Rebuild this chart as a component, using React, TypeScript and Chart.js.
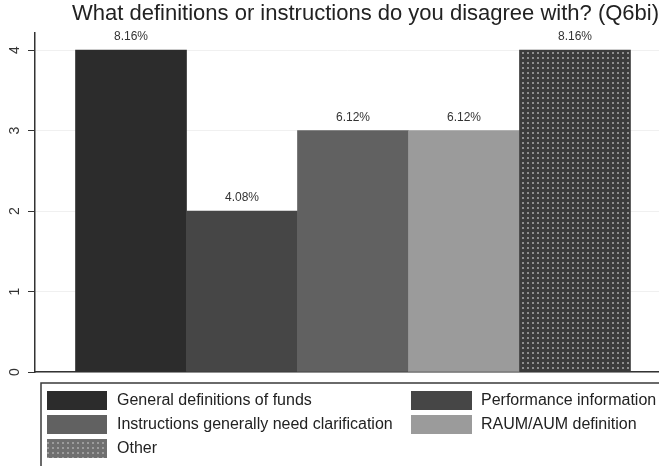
import React, { useEffect, useRef } from "react";
import { Chart, registerables } from "chart.js";

Chart.register(...registerables);

const TITLE = "What definitions or instructions do you disagree with? (Q6bi)";
const categories = [
  "General definitions of funds",
  "Performance information",
  "Instructions generally need clarification",
  "RAUM/AUM definition",
  "Other",
];
const counts = [4, 2, 3, 3, 4];
const pctLabels = ["8.16%", "4.08%", "6.12%", "6.12%", "8.16%"];
const barColors = ["#2c2c2c", "#464646", "#616161", "#9b9b9b", "PATTERN"];
const yTicks = [0, 1, 2, 3, 4];
// legend order: rows of two columns
const legendOrder = [0, 1, 2, 3, 4];

const FONT = "'Liberation Sans', Arial, Helvetica, sans-serif";

function makeDots(bg: string, dot: string): CanvasPattern | string {
  const c = document.createElement("canvas");
  c.width = 5;
  c.height = 5;
  const g = c.getContext("2d");
  if (!g) return bg;
  g.fillStyle = bg;
  g.fillRect(0, 0, 5, 5);
  g.fillStyle = dot;
  g.fillRect(2, 2, 2, 2);
  const p = g.createPattern(c, "repeat");
  return p || bg;
}

export default function App() {
  const ref = useRef<HTMLCanvasElement | null>(null);

  useEffect(() => {
    const canvas = ref.current;
    if (!canvas) return;
    const barPattern = makeDots("#3b3b3b", "#8e8e8e");
    const legendPattern = makeDots("#6f6f6f", "#9c9c9c");
    const fills = barColors.map((c) => (c === "PATTERN" ? barPattern : c));
    const legendFills = barColors.map((c) => (c === "PATTERN" ? legendPattern : c));

    const valueLabels = {
      id: "valueLabels",
      afterDatasetsDraw(chart: any) {
        const ctx = chart.ctx;
        const meta = chart.getDatasetMeta(0);
        ctx.save();
        ctx.font = `12px ${FONT}`;
        ctx.fillStyle = "#333";
        ctx.textAlign = "center";
        ctx.textBaseline = "middle";
        meta.data.forEach((el: any, i: number) => {
          ctx.fillText(pctLabels[i], el.x, el.y - 13);
        });
        ctx.restore();
      },
    };

    const boxLegend = {
      id: "boxLegend",
      afterDraw(chart: any) {
        const ctx = chart.ctx;
        const area = chart.chartArea;
        const top = area.bottom + 11;
        const left = 41;
        ctx.save();
        ctx.strokeStyle = "#3a3a3a";
        ctx.lineWidth = 1.5;
        ctx.strokeRect(left, top, chart.width - left + 5, chart.height - top + 5);
        ctx.font = `16px ${FONT}`;
        ctx.textBaseline = "middle";
        ctx.textAlign = "left";
        const colX = [47, 411];
        const swW = [60, 61];
        legendOrder.forEach((idx, k) => {
          const col = k % 2;
          const row = Math.floor(k / 2);
          const y = top + 8 + row * 24;
          ctx.fillStyle = legendFills[idx];
          ctx.fillRect(colX[col], y, swW[col], 19);
          ctx.fillStyle = "#222";
          ctx.fillText(categories[idx], colX[col] + 70, y + 10);
        });
        ctx.restore();
      },
    };

    const chart = new Chart(canvas, {
      type: "bar",
      data: {
        datasets: [
          {
            data: counts.map((v, i) => ({ x: i + 1, y: v })),
            backgroundColor: fills as any,
            borderWidth: 0,
            categoryPercentage: 1,
            barPercentage: 1,
          },
        ],
      },
      options: {
        responsive: false,
        animation: false,
        layout: { padding: { left: 0, right: 0, top: 0, bottom: 94 } },
        plugins: {
          legend: { display: false },
          tooltip: { enabled: false },
          title: {
            display: true,
            text: TITLE,
            align: "end",
            color: "#222",
            font: { size: 22, family: FONT, weight: "normal" },
            padding: { top: 1, bottom: 5 },
          },
        },
        scales: {
          x: {
            type: "linear",
            offset: false,
            min: 0.135,
            max: 5.757,
            afterBuildTicks(axis: any) {
              axis.ticks = categories.map((_, i) => ({ value: i + 1 }));
            },
            ticks: { display: false },
            grid: { display: false },
            border: { display: true, color: "#333", width: 1.5 },
            afterFit(axis: any) {
              axis.height = 0;
            },
          },
          y: {
            min: 0,
            max: 4.22,
            afterBuildTicks(axis: any) {
              axis.ticks = yTicks.map((v) => ({ value: v }));
            },
            ticks: {
              minRotation: 90,
              maxRotation: 90,
              crossAlign: "center",
              padding: 9,
              color: "#333",
              font: { size: 14, family: FONT },
            },
            grid: {
              color: "#f0f0f0",
              tickColor: "#333",
              tickLength: 7,
              lineWidth: 1,
            },
            border: { display: true, color: "#333", width: 1.5 },
            afterFit(axis: any) {
              axis.width = 35;
            },
          },
        },
      },
      plugins: [valueLabels, boxLegend],
    } as any);

    return () => chart.destroy();
  }, []);

  return (
    <div style={{ position: "fixed", left: 0, top: 0, width: 659, height: 466, background: "#fff" }}>
      <canvas ref={ref} width={659} height={466} style={{ display: "block" }} />
    </div>
  );
}
